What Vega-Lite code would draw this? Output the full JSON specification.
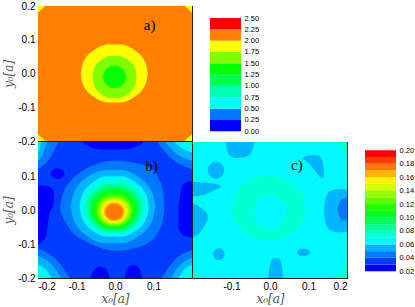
{
"$schema":"https://vega.github.io/schema/vega-lite/v6.json",
"autosize":{"type":"pad"},
"padding":{"left":2,"top":0,"right":0,"bottom":0},
"background":"white",
"config":{
 "view":{"stroke":"#222","strokeWidth":1},
 "axis":{"domain":false,"grid":false,"tickColor":"#222","tickSize":-4,"tickWidth":1,"labelPadding":7,"labelFont":"Liberation Sans","labelFontSize":10,"labelColor":"#000","titleFont":"DejaVu Serif","titleFontSize":12,"titleFontStyle":"italic","titleFontWeight":"normal","titleColor":"#555","titlePadding":2}
},
"spacing":172,
"bounds":"flush",
"resolve":{"scale":{"color":"independent"}},
"datasets":{
"a":[
{"s":"a0","v":2.1,"x":-0.2,"t":0.2,"b":-0.2},{"s":"a0","v":2.1,"x":0.2,"t":0.2,"b":-0.2},
{"s":"a5","v":1.9,"x":-0.2,"t":0.2,"b":0.18},{"s":"a5","v":1.9,"x":-0.182,"t":0.2,"b":0.2},
{"s":"a6","v":1.9,"x":0.182,"t":0.2,"b":0.2},{"s":"a6","v":1.9,"x":0.2,"t":0.2,"b":0.18},
{"s":"a7","v":1.9,"x":-0.2,"t":-0.18,"b":-0.2},{"s":"a7","v":1.9,"x":-0.18,"t":-0.2,"b":-0.2},
{"s":"a8","v":1.9,"x":0.18,"t":-0.2,"b":-0.2},{"s":"a8","v":1.9,"x":0.2,"t":-0.18,"b":-0.2},
{"s":"a1","v":1.9,"x":-0.089,"t":0,"b":0},{"s":"a1","v":1.9,"x":-0.084,"t":0.03,"b":-0.03},{"s":"a1","v":1.9,"x":-0.052,"t":0.071,"b":-0.071},{"s":"a1","v":1.9,"x":-0.017,"t":0.086,"b":-0.086},{"s":"a1","v":1.9,"x":0.013,"t":0.086,"b":-0.086},{"s":"a1","v":1.9,"x":0.048,"t":0.071,"b":-0.071},{"s":"a1","v":1.9,"x":0.08,"t":0.03,"b":-0.03},{"s":"a1","v":1.9,"x":0.085,"t":0,"b":0},
{"s":"a2","v":1.6,"x":-0.058,"t":-0.01,"b":-0.01},{"s":"a2","v":1.6,"x":-0.055,"t":0.012,"b":-0.032},{"s":"a2","v":1.6,"x":-0.034,"t":0.042,"b":-0.062},{"s":"a2","v":1.6,"x":-0.011,"t":0.052,"b":-0.072},{"s":"a2","v":1.6,"x":0.009,"t":0.052,"b":-0.072},{"s":"a2","v":1.6,"x":0.032,"t":0.042,"b":-0.062},{"s":"a2","v":1.6,"x":0.053,"t":0.012,"b":-0.032},{"s":"a2","v":1.6,"x":0.056,"t":-0.01,"b":-0.01},
{"s":"a3","v":1.4,"x":-0.031,"t":-0.01,"b":-0.01},{"s":"a3","v":1.4,"x":-0.029,"t":0.001,"b":-0.021},{"s":"a3","v":1.4,"x":-0.018,"t":0.017,"b":-0.037},{"s":"a3","v":1.4,"x":-0.006,"t":0.023,"b":-0.043},{"s":"a3","v":1.4,"x":0.004,"t":0.023,"b":-0.043},{"s":"a3","v":1.4,"x":0.016,"t":0.017,"b":-0.037},{"s":"a3","v":1.4,"x":0.027,"t":0.001,"b":-0.021},{"s":"a3","v":1.4,"x":0.029,"t":-0.01,"b":-0.01}
],
"b":[
{"s":"b0","v":0.035,"x":-0.2,"t":0.2,"b":-0.2},{"s":"b0","v":0.035,"x":0.2,"t":0.2,"b":-0.2},
{"s":"bd1","v":0.025,"x":-0.167,"t":0.107,"b":0.107},{"s":"bd1","v":0.025,"x":-0.166,"t":0.112,"b":0.102},{"s":"bd1","v":0.025,"x":-0.159,"t":0.119,"b":0.095},{"s":"bd1","v":0.025,"x":-0.152,"t":0.122,"b":0.092},{"s":"bd1","v":0.025,"x":-0.146,"t":0.122,"b":0.092},{"s":"bd1","v":0.025,"x":-0.139,"t":0.119,"b":0.095},{"s":"bd1","v":0.025,"x":-0.132,"t":0.112,"b":0.102},{"s":"bd1","v":0.025,"x":-0.131,"t":0.107,"b":0.107},
{"s":"bd2","v":0.025,"x":-0.2,"t":0.072,"b":-0.1},{"s":"bd2","v":0.025,"x":-0.18,"t":0.072,"b":-0.08},{"s":"bd2","v":0.025,"x":-0.17,"t":0.068,"b":-0.01},{"s":"bd2","v":0.025,"x":-0.161,"t":0.06,"b":0.012},{"s":"bd2","v":0.025,"x":-0.158,"t":0.04,"b":0.035},
{"s":"bd3","v":0.025,"x":-0.085,"t":0.2,"b":0.2},{"s":"bd3","v":0.025,"x":-0.065,"t":0.2,"b":0.186},{"s":"bd3","v":0.025,"x":-0.03,"t":0.2,"b":0.178},{"s":"bd3","v":0.025,"x":0.02,"t":0.2,"b":0.178},{"s":"bd3","v":0.025,"x":0.055,"t":0.2,"b":0.186},{"s":"bd3","v":0.025,"x":0.075,"t":0.2,"b":0.2},
{"s":"bd4","v":0.025,"x":0.165,"t":0.01,"b":-0.055},{"s":"bd4","v":0.025,"x":0.172,"t":0.06,"b":-0.07},{"s":"bd4","v":0.025,"x":0.178,"t":0.078,"b":-0.076},{"s":"bd4","v":0.025,"x":0.2,"t":0.085,"b":-0.08},
{"s":"bd5","v":0.025,"x":-0.063,"t":-0.2,"b":-0.2},{"s":"bd5","v":0.025,"x":-0.055,"t":-0.177,"b":-0.2},{"s":"bd5","v":0.025,"x":-0.04,"t":-0.167,"b":-0.2},{"s":"bd5","v":0.025,"x":-0.024,"t":-0.172,"b":-0.2},{"s":"bd5","v":0.025,"x":-0.013,"t":-0.2,"b":-0.2},
{"s":"bd6","v":0.025,"x":0.025,"t":-0.2,"b":-0.2},{"s":"bd6","v":0.025,"x":0.032,"t":-0.172,"b":-0.2},{"s":"bd6","v":0.025,"x":0.047,"t":-0.162,"b":-0.2},{"s":"bd6","v":0.025,"x":0.062,"t":-0.17,"b":-0.2},{"s":"bd6","v":0.025,"x":0.07,"t":-0.2,"b":-0.2},
{"s":"bt2","v":0.045,"x":-0.2,"t":0.2,"b":0.121},{"s":"bt2","v":0.045,"x":-0.169,"t":0.2,"b":0.153},{"s":"bt2","v":0.045,"x":-0.148,"t":0.2,"b":0.2},
{"s":"bt3","v":0.055,"x":-0.2,"t":0.2,"b":0.146},{"s":"bt3","v":0.055,"x":-0.186,"t":0.2,"b":0.168},{"s":"bt3","v":0.055,"x":-0.176,"t":0.2,"b":0.2},
{"s":"bt4","v":0.065,"x":-0.2,"t":0.2,"b":0.17},{"s":"bt4","v":0.065,"x":-0.195,"t":0.2,"b":0.182},{"s":"bt4","v":0.065,"x":-0.192,"t":0.2,"b":0.2},
{"s":"bu2","v":0.045,"x":0.11,"t":0.2,"b":0.2},{"s":"bu2","v":0.045,"x":0.146,"t":0.2,"b":0.152},{"s":"bu2","v":0.045,"x":0.2,"t":0.2,"b":0.12},
{"s":"bu3","v":0.055,"x":0.13,"t":0.2,"b":0.2},{"s":"bu3","v":0.055,"x":0.158,"t":0.2,"b":0.167},{"s":"bu3","v":0.055,"x":0.2,"t":0.2,"b":0.145},
{"s":"bu4","v":0.065,"x":0.155,"t":0.2,"b":0.2},{"s":"bu4","v":0.065,"x":0.173,"t":0.2,"b":0.182},{"s":"bu4","v":0.065,"x":0.2,"t":0.2,"b":0.17},
{"s":"bu5","v":0.075,"x":0.18,"t":0.2,"b":0.2},{"s":"bu5","v":0.075,"x":0.188,"t":0.2,"b":0.193},{"s":"bu5","v":0.075,"x":0.2,"t":0.2,"b":0.188},
{"s":"bl2","v":0.045,"x":-0.2,"t":-0.113,"b":-0.2},{"s":"bl2","v":0.045,"x":-0.151,"t":-0.148,"b":-0.2},{"s":"bl2","v":0.045,"x":-0.118,"t":-0.2,"b":-0.2},
{"s":"bl3","v":0.055,"x":-0.2,"t":-0.135,"b":-0.2},{"s":"bl3","v":0.055,"x":-0.164,"t":-0.161,"b":-0.2},{"s":"bl3","v":0.055,"x":-0.14,"t":-0.2,"b":-0.2},
{"s":"bl4","v":0.065,"x":-0.2,"t":-0.16,"b":-0.2},{"s":"bl4","v":0.065,"x":-0.179,"t":-0.176,"b":-0.2},{"s":"bl4","v":0.065,"x":-0.165,"t":-0.2,"b":-0.2},
{"s":"bl5","v":0.075,"x":-0.2,"t":-0.18,"b":-0.2},{"s":"bl5","v":0.075,"x":-0.191,"t":-0.188,"b":-0.2},{"s":"bl5","v":0.075,"x":-0.185,"t":-0.2,"b":-0.2},
{"s":"br2","v":0.045,"x":0.121,"t":-0.2,"b":-0.2},{"s":"br2","v":0.045,"x":0.153,"t":-0.149,"b":-0.2},{"s":"br2","v":0.045,"x":0.2,"t":-0.118,"b":-0.2},
{"s":"br3","v":0.055,"x":0.145,"t":-0.2,"b":-0.2},{"s":"br3","v":0.055,"x":0.167,"t":-0.164,"b":-0.2},{"s":"br3","v":0.055,"x":0.2,"t":-0.14,"b":-0.2},
{"s":"br4","v":0.065,"x":0.165,"t":-0.2,"b":-0.2},{"s":"br4","v":0.065,"x":0.179,"t":-0.176,"b":-0.2},{"s":"br4","v":0.065,"x":0.2,"t":-0.16,"b":-0.2},
{"s":"br5","v":0.075,"x":0.185,"t":-0.2,"b":-0.2},{"s":"br5","v":0.075,"x":0.191,"t":-0.19,"b":-0.2},{"s":"br5","v":0.075,"x":0.2,"t":-0.183,"b":-0.2},
{"s":"b2","v":0.045,"x":-0.142,"t":0.015,"b":-0.005},{"s":"b2","v":0.045,"x":-0.136,"t":0.045,"b":-0.02},{"s":"b2","v":0.045,"x":-0.115,"t":0.085,"b":-0.06},{"s":"b2","v":0.045,"x":-0.08,"t":0.118,"b":-0.09},{"s":"b2","v":0.045,"x":-0.04,"t":0.138,"b":-0.11},{"s":"b2","v":0.045,"x":0,"t":0.145,"b":-0.12},{"s":"b2","v":0.045,"x":0.045,"t":0.14,"b":-0.114},{"s":"b2","v":0.045,"x":0.085,"t":0.128,"b":-0.098},{"s":"b2","v":0.045,"x":0.112,"t":0.095,"b":-0.065},{"s":"b2","v":0.045,"x":0.124,"t":0.055,"b":-0.03},{"s":"b2","v":0.045,"x":0.128,"t":0.02,"b":0.005},
{"s":"b3","v":0.055,"x":-0.115,"t":0.01,"b":0.01},{"s":"b3","v":0.055,"x":-0.108,"t":0.048,"b":-0.028},{"s":"b3","v":0.055,"x":-0.068,"t":0.1,"b":-0.08},{"s":"b3","v":0.055,"x":-0.024,"t":0.118,"b":-0.098},{"s":"b3","v":0.055,"x":0.014,"t":0.118,"b":-0.098},{"s":"b3","v":0.055,"x":0.058,"t":0.1,"b":-0.08},{"s":"b3","v":0.055,"x":0.098,"t":0.048,"b":-0.028},{"s":"b3","v":0.055,"x":0.105,"t":0.01,"b":0.01},
{"s":"b4","v":0.065,"x":-0.092,"t":0.01,"b":0.01},{"s":"b4","v":0.065,"x":-0.087,"t":0.041,"b":-0.021},{"s":"b4","v":0.065,"x":-0.054,"t":0.084,"b":-0.064},{"s":"b4","v":0.065,"x":-0.018,"t":0.099,"b":-0.079},{"s":"b4","v":0.065,"x":0.014,"t":0.099,"b":-0.079},{"s":"b4","v":0.065,"x":0.05,"t":0.084,"b":-0.064},{"s":"b4","v":0.065,"x":0.083,"t":0.041,"b":-0.021},{"s":"b4","v":0.065,"x":0.088,"t":0.01,"b":0.01},
{"s":"b5","v":0.075,"x":-0.082,"t":0.008,"b":0.008},{"s":"b5","v":0.075,"x":-0.077,"t":0.035,"b":-0.019},{"s":"b5","v":0.075,"x":-0.048,"t":0.074,"b":-0.058},{"s":"b5","v":0.075,"x":-0.016,"t":0.087,"b":-0.071},{"s":"b5","v":0.075,"x":0.012,"t":0.087,"b":-0.071},{"s":"b5","v":0.075,"x":0.044,"t":0.074,"b":-0.058},{"s":"b5","v":0.075,"x":0.073,"t":0.035,"b":-0.019},{"s":"b5","v":0.075,"x":0.078,"t":0.008,"b":0.008},
{"s":"b6","v":0.085,"x":-0.074,"t":0.006,"b":0.006},{"s":"b6","v":0.085,"x":-0.07,"t":0.031,"b":-0.019},{"s":"b6","v":0.085,"x":-0.043,"t":0.065,"b":-0.053},{"s":"b6","v":0.085,"x":-0.015,"t":0.077,"b":-0.065},{"s":"b6","v":0.085,"x":0.011,"t":0.077,"b":-0.065},{"s":"b6","v":0.085,"x":0.039,"t":0.065,"b":-0.053},{"s":"b6","v":0.085,"x":0.066,"t":0.031,"b":-0.019},{"s":"b6","v":0.085,"x":0.07,"t":0.006,"b":0.006},
{"s":"b7","v":0.095,"x":-0.067,"t":0.004,"b":0.004},{"s":"b7","v":0.095,"x":-0.063,"t":0.026,"b":-0.018},{"s":"b7","v":0.095,"x":-0.039,"t":0.057,"b":-0.049},{"s":"b7","v":0.095,"x":-0.013,"t":0.068,"b":-0.06},{"s":"b7","v":0.095,"x":0.009,"t":0.068,"b":-0.06},{"s":"b7","v":0.095,"x":0.035,"t":0.057,"b":-0.049},{"s":"b7","v":0.095,"x":0.059,"t":0.026,"b":-0.018},{"s":"b7","v":0.095,"x":0.063,"t":0.004,"b":0.004},
{"s":"b8","v":0.105,"x":-0.06,"t":0.002,"b":0.002},{"s":"b8","v":0.105,"x":-0.057,"t":0.022,"b":-0.018},{"s":"b8","v":0.105,"x":-0.035,"t":0.05,"b":-0.046},{"s":"b8","v":0.105,"x":-0.012,"t":0.059,"b":-0.055},{"s":"b8","v":0.105,"x":0.008,"t":0.059,"b":-0.055},{"s":"b8","v":0.105,"x":0.031,"t":0.05,"b":-0.046},{"s":"b8","v":0.105,"x":0.053,"t":0.022,"b":-0.018},{"s":"b8","v":0.105,"x":0.056,"t":0.002,"b":0.002},
{"s":"b9","v":0.115,"x":-0.054,"t":0,"b":0},{"s":"b9","v":0.115,"x":-0.051,"t":0.018,"b":-0.018},{"s":"b9","v":0.115,"x":-0.032,"t":0.043,"b":-0.043},{"s":"b9","v":0.115,"x":-0.011,"t":0.051,"b":-0.051},{"s":"b9","v":0.115,"x":0.007,"t":0.051,"b":-0.051},{"s":"b9","v":0.115,"x":0.028,"t":0.043,"b":-0.043},{"s":"b9","v":0.115,"x":0.047,"t":0.018,"b":-0.018},{"s":"b9","v":0.115,"x":0.05,"t":0,"b":0},
{"s":"b10","v":0.125,"x":-0.048,"t":-0.001,"b":-0.001},{"s":"b10","v":0.125,"x":-0.045,"t":0.015,"b":-0.017},{"s":"b10","v":0.125,"x":-0.028,"t":0.037,"b":-0.039},{"s":"b10","v":0.125,"x":-0.01,"t":0.044,"b":-0.046},{"s":"b10","v":0.125,"x":0.006,"t":0.044,"b":-0.046},{"s":"b10","v":0.125,"x":0.024,"t":0.037,"b":-0.039},{"s":"b10","v":0.125,"x":0.041,"t":0.015,"b":-0.017},{"s":"b10","v":0.125,"x":0.044,"t":-0.001,"b":-0.001},
{"s":"b11","v":0.135,"x":-0.043,"t":-0.002,"b":-0.002},{"s":"b11","v":0.135,"x":-0.041,"t":0.012,"b":-0.016},{"s":"b11","v":0.135,"x":-0.026,"t":0.032,"b":-0.036},{"s":"b11","v":0.135,"x":-0.009,"t":0.038,"b":-0.042},{"s":"b11","v":0.135,"x":0.005,"t":0.038,"b":-0.042},{"s":"b11","v":0.135,"x":0.022,"t":0.032,"b":-0.036},{"s":"b11","v":0.135,"x":0.037,"t":0.012,"b":-0.016},{"s":"b11","v":0.135,"x":0.039,"t":-0.002,"b":-0.002},
{"s":"b12","v":0.145,"x":-0.038,"t":-0.003,"b":-0.003},{"s":"b12","v":0.145,"x":-0.036,"t":0.009,"b":-0.015},{"s":"b12","v":0.145,"x":-0.023,"t":0.027,"b":-0.033},{"s":"b12","v":0.145,"x":-0.008,"t":0.033,"b":-0.039},{"s":"b12","v":0.145,"x":0.004,"t":0.033,"b":-0.039},{"s":"b12","v":0.145,"x":0.019,"t":0.027,"b":-0.033},{"s":"b12","v":0.145,"x":0.032,"t":0.009,"b":-0.015},{"s":"b12","v":0.145,"x":0.034,"t":-0.003,"b":-0.003},
{"s":"b13","v":0.155,"x":-0.033,"t":-0.004,"b":-0.004},{"s":"b13","v":0.155,"x":-0.031,"t":0.007,"b":-0.015},{"s":"b13","v":0.155,"x":-0.02,"t":0.021,"b":-0.029},{"s":"b13","v":0.155,"x":-0.007,"t":0.027,"b":-0.035},{"s":"b13","v":0.155,"x":0.003,"t":0.027,"b":-0.035},{"s":"b13","v":0.155,"x":0.016,"t":0.021,"b":-0.029},{"s":"b13","v":0.155,"x":0.027,"t":0.007,"b":-0.015},{"s":"b13","v":0.155,"x":0.029,"t":-0.004,"b":-0.004},
{"s":"b14","v":0.165,"x":-0.029,"t":-0.005,"b":-0.005},{"s":"b14","v":0.165,"x":-0.027,"t":0.004,"b":-0.014},{"s":"b14","v":0.165,"x":-0.018,"t":0.017,"b":-0.027},{"s":"b14","v":0.165,"x":-0.007,"t":0.022,"b":-0.032},{"s":"b14","v":0.165,"x":0.003,"t":0.022,"b":-0.032},{"s":"b14","v":0.165,"x":0.014,"t":0.017,"b":-0.027},{"s":"b14","v":0.165,"x":0.023,"t":0.004,"b":-0.014},{"s":"b14","v":0.165,"x":0.025,"t":-0.005,"b":-0.005},
{"s":"b15","v":0.175,"x":-0.025,"t":-0.006,"b":-0.006},{"s":"b15","v":0.175,"x":-0.024,"t":0.002,"b":-0.014},{"s":"b15","v":0.175,"x":-0.015,"t":0.013,"b":-0.025},{"s":"b15","v":0.175,"x":-0.006,"t":0.017,"b":-0.029},{"s":"b15","v":0.175,"x":0.002,"t":0.017,"b":-0.029},{"s":"b15","v":0.175,"x":0.011,"t":0.013,"b":-0.025},{"s":"b15","v":0.175,"x":0.02,"t":0.002,"b":-0.014},{"s":"b15","v":0.175,"x":0.021,"t":-0.006,"b":-0.006}
],
"c":[
{"s":"c0","v":0.065,"x":-0.2,"t":0.2,"b":-0.2},{"s":"c0","v":0.065,"x":0.2,"t":0.2,"b":-0.2},
{"s":"c1","v":0.075,"x":-0.1,"t":0.005,"b":0.005},{"s":"c1","v":0.075,"x":-0.094,"t":0.038,"b":-0.028},{"s":"c1","v":0.075,"x":-0.059,"t":0.083,"b":-0.073},{"s":"c1","v":0.075,"x":-0.021,"t":0.099,"b":-0.089},{"s":"c1","v":0.075,"x":0.013,"t":0.099,"b":-0.089},{"s":"c1","v":0.075,"x":0.051,"t":0.083,"b":-0.073},{"s":"c1","v":0.075,"x":0.086,"t":0.038,"b":-0.028},{"s":"c1","v":0.075,"x":0.092,"t":0.005,"b":0.005},
{"s":"c2","v":0.065,"x":-0.042,"t":-0.006,"b":-0.006},{"s":"c2","v":0.065,"x":-0.04,"t":0.011,"b":-0.023},{"s":"c2","v":0.065,"x":-0.024,"t":0.035,"b":-0.047},{"s":"c2","v":0.065,"x":-0.007,"t":0.043,"b":-0.055},{"s":"c2","v":0.065,"x":0.007,"t":0.043,"b":-0.055},{"s":"c2","v":0.065,"x":0.024,"t":0.035,"b":-0.047},{"s":"c2","v":0.065,"x":0.04,"t":0.011,"b":-0.023},{"s":"c2","v":0.065,"x":0.042,"t":-0.006,"b":-0.006},
{"s":"c3","v":0.075,"x":-0.2,"t":0.2,"b":0.178},{"s":"c3","v":0.075,"x":-0.187,"t":0.2,"b":0.187},{"s":"c3","v":0.075,"x":-0.178,"t":0.2,"b":0.2},
{"s":"c4","v":0.075,"x":0.173,"t":0.2,"b":0.2},{"s":"c4","v":0.075,"x":0.184,"t":0.2,"b":0.18},{"s":"c4","v":0.075,"x":0.2,"t":0.2,"b":0.166},
{"s":"c5","v":0.075,"x":-0.2,"t":-0.167,"b":-0.2},{"s":"c5","v":0.075,"x":-0.187,"t":-0.18,"b":-0.2},{"s":"c5","v":0.075,"x":-0.178,"t":-0.2,"b":-0.2},
{"s":"c6","v":0.075,"x":0.165,"t":-0.2,"b":-0.2},{"s":"c6","v":0.075,"x":0.179,"t":-0.18,"b":-0.2},{"s":"c6","v":0.075,"x":0.2,"t":-0.167,"b":-0.2},
{"s":"c7","v":0.055,"x":-0.115,"t":0.2,"b":0.2},{"s":"c7","v":0.055,"x":-0.108,"t":0.2,"b":0.165},{"s":"c7","v":0.055,"x":-0.09,"t":0.2,"b":0.153},{"s":"c7","v":0.055,"x":-0.065,"t":0.2,"b":0.156},{"s":"c7","v":0.055,"x":-0.048,"t":0.2,"b":0.17},{"s":"c7","v":0.055,"x":-0.04,"t":0.2,"b":0.2},
{"s":"c8","v":0.055,"x":0.085,"t":0.153,"b":0.15},{"s":"c8","v":0.055,"x":0.1,"t":0.16,"b":0.138},{"s":"c8","v":0.055,"x":0.12,"t":0.161,"b":0.11},{"s":"c8","v":0.055,"x":0.132,"t":0.155,"b":0.095},{"s":"c8","v":0.055,"x":0.138,"t":0.13,"b":0.095},{"s":"c8","v":0.055,"x":0.14,"t":0.105,"b":0.1},
{"s":"c9","v":0.055,"x":-0.161,"t":0.117,"b":0.117},{"s":"c9","v":0.055,"x":-0.16,"t":0.125,"b":0.109},{"s":"c9","v":0.055,"x":-0.152,"t":0.137,"b":0.097},{"s":"c9","v":0.055,"x":-0.144,"t":0.141,"b":0.093},{"s":"c9","v":0.055,"x":-0.136,"t":0.141,"b":0.093},{"s":"c9","v":0.055,"x":-0.128,"t":0.137,"b":0.097},{"s":"c9","v":0.055,"x":-0.12,"t":0.125,"b":0.109},{"s":"c9","v":0.055,"x":-0.119,"t":0.117,"b":0.117},
{"s":"c10","v":0.055,"x":-0.2,"t":0.082,"b":0.04},{"s":"c10","v":0.055,"x":-0.17,"t":0.08,"b":0.045},{"s":"c10","v":0.055,"x":-0.145,"t":0.078,"b":0.058},{"s":"c10","v":0.055,"x":-0.128,"t":0.072,"b":0.066},
{"s":"c11","v":0.055,"x":-0.2,"t":0.02,"b":-0.08},{"s":"c11","v":0.055,"x":-0.185,"t":0.012,"b":-0.07},{"s":"c11","v":0.055,"x":-0.172,"t":0,"b":-0.05},{"s":"c11","v":0.055,"x":-0.162,"t":-0.012,"b":-0.03},
{"s":"c12","v":0.055,"x":-0.148,"t":-0.13,"b":-0.13},{"s":"c12","v":0.055,"x":-0.147,"t":-0.124,"b":-0.136},{"s":"c12","v":0.055,"x":-0.142,"t":-0.116,"b":-0.144},{"s":"c12","v":0.055,"x":-0.136,"t":-0.113,"b":-0.147},{"s":"c12","v":0.055,"x":-0.13,"t":-0.113,"b":-0.147},{"s":"c12","v":0.055,"x":-0.124,"t":-0.116,"b":-0.144},{"s":"c12","v":0.055,"x":-0.119,"t":-0.124,"b":-0.136},{"s":"c12","v":0.055,"x":-0.118,"t":-0.13,"b":-0.13},
{"s":"c13","v":0.055,"x":-0.004,"t":-0.2,"b":-0.2},{"s":"c13","v":0.055,"x":0,"t":-0.16,"b":-0.2},{"s":"c13","v":0.055,"x":0.01,"t":-0.142,"b":-0.2},{"s":"c13","v":0.055,"x":0.022,"t":-0.142,"b":-0.2},{"s":"c13","v":0.055,"x":0.031,"t":-0.165,"b":-0.2},{"s":"c13","v":0.055,"x":0.034,"t":-0.2,"b":-0.2},
{"s":"c14","v":0.055,"x":0.07,"t":-0.125,"b":-0.125},{"s":"c14","v":0.055,"x":0.071,"t":-0.121,"b":-0.129},{"s":"c14","v":0.055,"x":0.077,"t":-0.116,"b":-0.134},{"s":"c14","v":0.055,"x":0.084,"t":-0.114,"b":-0.136},{"s":"c14","v":0.055,"x":0.09,"t":-0.114,"b":-0.136},{"s":"c14","v":0.055,"x":0.097,"t":-0.116,"b":-0.134},{"s":"c14","v":0.055,"x":0.103,"t":-0.121,"b":-0.129},{"s":"c14","v":0.055,"x":0.104,"t":-0.125,"b":-0.125},
{"s":"c15","v":0.055,"x":0.14,"t":0.005,"b":-0.005},{"s":"c15","v":0.055,"x":0.146,"t":0.04,"b":-0.045},{"s":"c15","v":0.055,"x":0.16,"t":0.058,"b":-0.062},{"s":"c15","v":0.055,"x":0.18,"t":0.062,"b":-0.066},{"s":"c15","v":0.055,"x":0.2,"t":0.06,"b":-0.065},
{"s":"c16","v":0.045,"x":0.176,"t":0.004,"b":-0.002},{"s":"c16","v":0.045,"x":0.182,"t":0.026,"b":-0.024},{"s":"c16","v":0.045,"x":0.19,"t":0.033,"b":-0.03},{"s":"c16","v":0.045,"x":0.2,"t":0.035,"b":-0.03}
],
"la":[
{"lo":0,"hi":0.25,"v":0.125},{"lo":0.25,"hi":0.5,"v":0.375},{"lo":0.5,"hi":0.75,"v":0.625},{"lo":0.75,"hi":1,"v":0.875},{"lo":1,"hi":1.25,"v":1.125},{"lo":1.25,"hi":1.5,"v":1.375},{"lo":1.5,"hi":1.75,"v":1.625},{"lo":1.75,"hi":2,"v":1.875},{"lo":2,"hi":2.25,"v":2.125},{"lo":2.25,"hi":2.5,"v":2.375}
],
"lc":[
{"lo":0.02,"hi":0.03,"v":0.025},{"lo":0.03,"hi":0.04,"v":0.035},{"lo":0.04,"hi":0.05,"v":0.045},{"lo":0.05,"hi":0.06,"v":0.055},{"lo":0.06,"hi":0.07,"v":0.065},{"lo":0.07,"hi":0.08,"v":0.075},{"lo":0.08,"hi":0.09,"v":0.085},{"lo":0.09,"hi":0.1,"v":0.095},{"lo":0.1,"hi":0.11,"v":0.105},{"lo":0.11,"hi":0.12,"v":0.115},{"lo":0.12,"hi":0.13,"v":0.125},{"lo":0.13,"hi":0.14,"v":0.135},{"lo":0.14,"hi":0.15,"v":0.145},{"lo":0.15,"hi":0.16,"v":0.155},{"lo":0.16,"hi":0.17,"v":0.165},{"lo":0.17,"hi":0.18,"v":0.175},{"lo":0.18,"hi":0.19,"v":0.185},{"lo":0.19,"hi":0.2,"v":0.195}
]
},
"hconcat":[
{"vconcat":[
 {"width":154,"height":135,
  "layer":[
   {"data":{"name":"a"},"mark":{"type":"area","interpolate":"monotone","clip":true},
    "encoding":{
     "x":{"field":"x","type":"quantitative","scale":{"domain":[-0.2,0.2],"nice":false,"zero":false},"axis":{"orient":"bottom","values":[-0.2,-0.15,-0.1,-0.05,0,0.05,0.1,0.15,0.2],"labels":false,"title":null}},
     "y":{"field":"t","type":"quantitative","stack":null,"scale":{"domain":[-0.2,0.2],"nice":false,"zero":false},"axis":{"orient":"left","values":[-0.2,-0.15,-0.1,-0.05,0,0.05,0.1,0.15,0.2],"labelExpr":"abs(datum.value*10-round(datum.value*10))<0.01 ? (datum.value<-0.001 ? '-' : '') + format(abs(datum.value),'.1f') : ''","title":"y₀[a]"}},
     "y2":{"field":"b"},
     "color":{"field":"v","type":"quantitative","scale":{"type":"threshold","domain":[0.25,0.5,0.75,1,1.25,1.5,1.75,2,2.25],"range":["#0000FF","#0078FF","#00FFFF","#00FFB4","#00FF50","#00FF00","#80FF00","#FFFF00","#FF8000","#FF0000"]},"legend":null},
     "detail":{"field":"s"}}},
   {"data":{"values":[{"x":0.09,"t":0.143,"l":"a)"}]},"mark":{"type":"text","font":"Liberation Serif","fontSize":15,"color":"#000"},
    "encoding":{
     "x":{"field":"x","type":"quantitative","axis":{"orient":"top","values":[-0.2,-0.15,-0.1,-0.05,0,0.05,0.1,0.15,0.2],"labels":false,"title":null}},
     "y":{"field":"t","type":"quantitative","axis":{"orient":"right","values":[-0.2,-0.15,-0.1,-0.05,0,0.05,0.1,0.15,0.2],"labels":false,"title":null}},
     "text":{"field":"l"}}}
  ],
  "resolve":{"axis":{"x":"independent","y":"independent"}}},
 {"hconcat":[
  {"width":154,"height":136,
   "layer":[
    {"data":{"name":"b"},"mark":{"type":"area","interpolate":"monotone","clip":true},
     "encoding":{
      "x":{"field":"x","type":"quantitative","scale":{"domain":[-0.2,0.2],"nice":false,"zero":false},"axis":{"orient":"bottom","values":[-0.2,-0.15,-0.1,-0.05,0,0.05,0.1,0.15],"labelExpr":"abs(datum.value*10-round(datum.value*10))<0.01 ? (datum.value<-0.001 ? '-' : '') + format(abs(datum.value),'.1f') : ''","title":"x₀[a]"}},
      "y":{"field":"t","type":"quantitative","stack":null,"scale":{"domain":[-0.2,0.2],"nice":false,"zero":false},"axis":{"orient":"left","values":[-0.2,-0.15,-0.1,-0.05,0,0.05,0.1,0.15],"labelExpr":"abs(datum.value*10-round(datum.value*10))<0.01 ? (datum.value<-0.001 ? '-' : '') + format(abs(datum.value),'.1f') : ''","title":"y₀[a]"}},
      "y2":{"field":"b"},
      "color":{"field":"v","type":"quantitative","scale":{"type":"threshold","domain":[0.03,0.04,0.05,0.06,0.07,0.08,0.09,0.1,0.11,0.12,0.13,0.14,0.15,0.16,0.17,0.18,0.19],"range":["#0000FF","#003CFF","#0078FF","#00B4FF","#00F8FF","#00FFD2","#00FF96","#00FF5A","#00FF1E","#1EFF00","#5AFF00","#96FF00","#D2FF00","#FFF000","#FFB400","#FF7800","#FF3C00","#FF0000"]},"legend":null},
      "detail":{"field":"s"}}},
    {"data":{"values":[{"x":0.095,"t":0.129,"l":"b)"}]},"mark":{"type":"text","font":"Liberation Serif","fontSize":15,"color":"#000"},
     "encoding":{
      "x":{"field":"x","type":"quantitative","axis":{"orient":"top","values":[-0.2,-0.15,-0.1,-0.05,0,0.05,0.1,0.15,0.2],"labels":false,"title":null}},
      "y":{"field":"t","type":"quantitative","axis":{"orient":"right","values":[-0.2,-0.15,-0.1,-0.05,0,0.05,0.1,0.15,0.2],"labels":false,"title":null}},
      "text":{"field":"l"}}}
   ],
   "resolve":{"axis":{"x":"independent","y":"independent"}}},
  {"hconcat":[
   {"width":154,"height":136,
    "layer":[
     {"data":{"name":"c"},"mark":{"type":"area","interpolate":"monotone","clip":true},
      "encoding":{
       "x":{"field":"x","type":"quantitative","scale":{"domain":[-0.2,0.2],"nice":false,"zero":false},"axis":{"orient":"bottom","values":[-0.15,-0.1,-0.05,0,0.05,0.1,0.15,0.2],"labelExpr":"abs(datum.value*10-round(datum.value*10))<0.01 ? (datum.value<-0.001 ? '-' : '') + format(abs(datum.value),'.1f') : ''","title":"x₀[a]"}},
       "y":{"field":"t","type":"quantitative","stack":null,"scale":{"domain":[-0.2,0.2],"nice":false,"zero":false},"axis":{"orient":"left","values":[-0.2,-0.15,-0.1,-0.05,0,0.05,0.1,0.15,0.2],"labels":false,"title":null}},
       "y2":{"field":"b"},
       "color":{"field":"v","type":"quantitative","scale":{"type":"threshold","domain":[0.03,0.04,0.05,0.06,0.07,0.08,0.09,0.1,0.11,0.12,0.13,0.14,0.15,0.16,0.17,0.18,0.19],"range":["#0000FF","#003CFF","#0078FF","#00B4FF","#00F8FF","#00FFD2","#00FF96","#00FF5A","#00FF1E","#1EFF00","#5AFF00","#96FF00","#D2FF00","#FFF000","#FFB400","#FF7800","#FF3C00","#FF0000"]},"legend":null},
       "detail":{"field":"s"}}},
     {"data":{"values":[{"x":0.07,"t":0.132,"l":"c)"}]},"mark":{"type":"text","font":"Liberation Serif","fontSize":15,"color":"#000"},
      "encoding":{
       "x":{"field":"x","type":"quantitative","axis":{"orient":"top","values":[-0.2,-0.15,-0.1,-0.05,0,0.05,0.1,0.15,0.2],"labels":false,"title":null}},
       "y":{"field":"t","type":"quantitative","axis":{"orient":"right","values":[-0.2,-0.15,-0.1,-0.05,0,0.05,0.1,0.15,0.2],"labels":false,"title":null}},
       "text":{"field":"l"}}}
    ],
    "resolve":{"axis":{"x":"independent","y":"independent"}}},
   {"width":31,"height":136,"view":{"stroke":null},"data":{"name":"lc"},"mark":"rect",
    "encoding":{
     "y":{"field":"lo","type":"quantitative","scale":{"domain":[0.01,0.2123],"nice":false,"zero":false},"axis":{"orient":"right","values":[0.02,0.04,0.06,0.08,0.1,0.12,0.14,0.16,0.18,0.2],"format":".2f","ticks":false,"labelPadding":3,"labelFontSize":7.5,"title":null}},
     "y2":{"field":"hi"},
     "color":{"field":"v","type":"quantitative","scale":{"type":"threshold","domain":[0.03,0.04,0.05,0.06,0.07,0.08,0.09,0.1,0.11,0.12,0.13,0.14,0.15,0.16,0.17,0.18,0.19],"range":["#0000FF","#003CFF","#0078FF","#00B4FF","#00F8FF","#00FFD2","#00FF96","#00FF5A","#00FF1E","#1EFF00","#5AFF00","#96FF00","#D2FF00","#FFF000","#FFB400","#FF7800","#FF3C00","#FF0000"]},"legend":null}}}
  ],"spacing":18,"bounds":"flush"}
 ],"spacing":1,"bounds":"flush"}
],"spacing":1,"bounds":"flush","resolve":{"scale":{"color":"independent"}}},
{"width":31,"height":135,"view":{"stroke":null},"data":{"name":"la"},"mark":"rect",
 "encoding":{
  "y":{"field":"lo","type":"quantitative","scale":{"domain":[-0.214,2.765],"nice":false,"zero":false},"axis":{"orient":"right","values":[0,0.25,0.5,0.75,1,1.25,1.5,1.75,2,2.25,2.5],"format":".2f","ticks":false,"labelPadding":3,"labelFontSize":7.5,"title":null}},
  "y2":{"field":"hi"},
  "color":{"field":"v","type":"quantitative","scale":{"type":"threshold","domain":[0.25,0.5,0.75,1,1.25,1.5,1.75,2,2.25],"range":["#0000FF","#0078FF","#00FFFF","#00FFB4","#00FF50","#00FF00","#80FF00","#FFFF00","#FF8000","#FF0000"]},"legend":null}}}
]
}
